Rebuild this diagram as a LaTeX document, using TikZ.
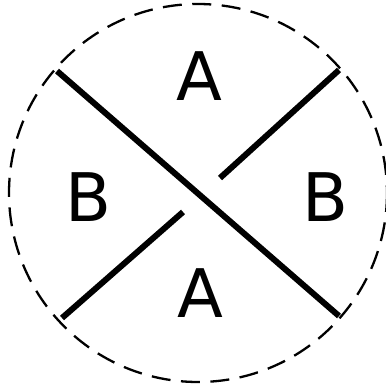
\documentclass[tikz,border=0pt]{standalone}
\usepackage{fontspec}
\setmainfont{DejaVu Sans}
\usetikzlibrary{positioning}

\begin{document}
\begin{tikzpicture}[
  x=1pt, y=-1pt,
  every node/.style={font=\fontsize{67}{67}\selectfont, inner sep=0pt},
  strand/.style={line width=6pt},
  rim/.style={line width=2.3pt, dash pattern=on 19pt off 10.5pt}
]
  \useasboundingbox (0,0) rectangle (385,390);
  \draw[rim] (198,193) circle[radius=189];
  % end points of the two strands
  \coordinate (nw) at (57,71);
  \coordinate (se) at (339,316);
  \coordinate (ne) at (339,70);
  \coordinate (sw) at (62,318);
  \coordinate (gapne) at (220,178);
  \coordinate (gapsw) at (183,212);
  \draw[strand] (nw) -- (se);
  \draw[strand] (ne) -- (gapne);
  \draw[strand] (gapsw) -- (sw);
  % regions
  \node (atop) at (199,76) {A};
  \node (abot) at (200,293) {A};
  \node (bleft) at (88,197) {B};
  \node (bright) at (325,197) {B};
\end{tikzpicture}
\end{document}
